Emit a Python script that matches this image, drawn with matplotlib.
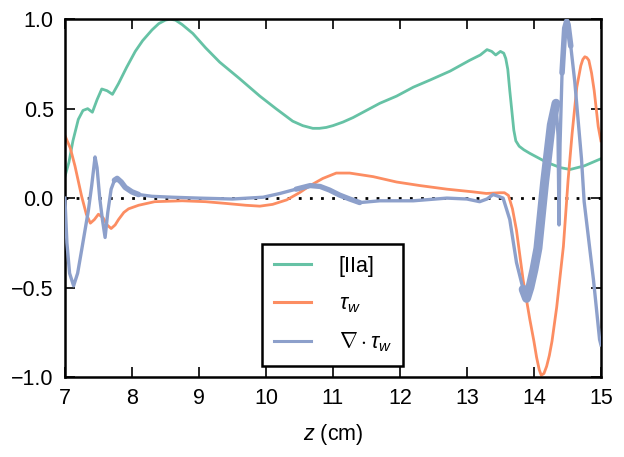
import numpy as np
import matplotlib
matplotlib.use("Agg")
import matplotlib.pyplot as plt

plt.rcParams['font.family'] = ['Liberation Sans', 'DejaVu Sans']
plt.rcParams['mathtext.fontset'] = 'custom'
plt.rcParams['mathtext.rm'] = 'Liberation Sans'
plt.rcParams['mathtext.it'] = 'Liberation Sans:italic'

# [IIa] profile
green_z = [7.0, 7.06, 7.12, 7.2, 7.27, 7.34, 7.41, 7.48, 7.55, 7.63, 7.71, 7.8, 7.92, 8.05,
           8.16, 8.3, 8.4, 8.5, 8.57, 8.65, 8.75, 8.91, 9.1, 9.31, 9.6, 9.91, 10.15, 10.4,
           10.55, 10.7, 10.8, 10.9, 11.0, 11.15, 11.3, 11.7, 11.95, 12.2, 12.45, 12.75, 13.04,
           13.2, 13.3, 13.37, 13.43, 13.5, 13.55, 13.58, 13.61, 13.64, 13.67, 13.7, 13.73,
           13.78, 13.85, 13.94, 14.19, 14.4, 14.54, 14.75, 15.0]
green_v = [0.12, 0.2, 0.32, 0.44, 0.49, 0.50, 0.48, 0.55, 0.61, 0.60, 0.58, 0.64, 0.73, 0.82,
           0.88, 0.94, 0.975, 0.995, 1.0, 0.995, 0.97, 0.92, 0.84, 0.76, 0.67, 0.57, 0.50, 0.43,
           0.405, 0.39, 0.39, 0.395, 0.405, 0.425, 0.45, 0.53, 0.57, 0.62, 0.66, 0.71, 0.77,
           0.80, 0.83, 0.82, 0.80, 0.82, 0.81, 0.78, 0.72, 0.6, 0.49, 0.38, 0.32, 0.29, 0.27,
           0.25, 0.20, 0.17, 0.16, 0.18, 0.22]

# wall shear stress tau_w
tau_z = [7.0, 7.08, 7.15, 7.25, 7.32, 7.38, 7.44, 7.5, 7.57, 7.63, 7.69, 7.75, 7.8, 7.88, 7.95,
         8.1, 8.34, 8.75, 9.1, 9.41, 9.7, 9.91, 10.1, 10.31, 10.5, 10.66, 10.85, 11.05, 11.25,
         11.6, 11.95, 12.3, 12.7, 13.09, 13.29, 13.49, 13.56, 13.62, 13.68, 13.74, 13.84, 13.94,
         14.0, 14.04, 14.08, 14.11, 14.15, 14.19, 14.23, 14.27, 14.34, 14.44, 14.51, 14.57,
         14.64, 14.7, 14.73, 14.76, 14.79, 14.82, 14.86, 14.9, 14.96, 15.0]
tau_v = [0.35, 0.28, 0.18, 0.01, -0.09, -0.14, -0.12, -0.09, -0.11, -0.15, -0.17, -0.15, -0.12,
         -0.08, -0.06, -0.04, -0.02, -0.015, -0.02, -0.03, -0.04, -0.045, -0.035, -0.01, 0.03,
         0.07, 0.11, 0.14, 0.14, 0.12, 0.09, 0.07, 0.05, 0.035, 0.026, 0.03, 0.03, 0.015, -0.06,
         -0.18, -0.46, -0.68, -0.8, -0.89, -0.96, -0.99, -0.98, -0.94, -0.88, -0.80, -0.61,
         -0.27, 0.10, 0.36, 0.62, 0.74, 0.775, 0.79, 0.785, 0.77, 0.7, 0.6, 0.4, 0.32]

# divergence of tau_w
div_z = [7.0, 7.03, 7.07, 7.13, 7.19, 7.25, 7.3, 7.35, 7.4, 7.45, 7.48, 7.52, 7.56, 7.6, 7.64,
         7.69, 7.74, 7.78, 7.84, 7.9, 8.0, 8.1, 8.3, 8.6, 9.0, 9.5, 9.96, 10.21, 10.45, 10.66,
         10.81, 10.95, 11.1, 11.25, 11.4, 11.7, 12.2, 12.7, 13.0, 13.19, 13.3, 13.39, 13.47,
         13.54, 13.64, 13.74, 13.84, 13.89, 13.94, 14.0, 14.06, 14.16, 14.26, 14.33, 14.36,
         14.375, 14.39, 14.42, 14.46, 14.49, 14.51, 14.55, 14.61, 14.71, 14.75, 14.89, 14.98,
         15.0]
div_v = [0.0, -0.25, -0.42, -0.49, -0.42, -0.29, -0.18, -0.07, 0.07, 0.23, 0.17, 0.0, -0.12,
         -0.22, -0.08, 0.05, 0.10, 0.11, 0.09, 0.06, 0.035, 0.02, 0.01, 0.005, 0.0, -0.005,
         0.005, 0.026, 0.05, 0.07, 0.065, 0.045, 0.017, -0.005, -0.025, -0.015, -0.015, 0.0,
         -0.005, -0.02, -0.005, 0.02, 0.01, 0.0, -0.12, -0.36, -0.51, -0.56, -0.5, -0.4, -0.28,
         0.09, 0.41, 0.53, 0.35, -0.15, 0.3, 0.7, 0.95, 0.99, 0.97, 0.85, 0.65, 0.22, -0.02,
         -0.46, -0.79, -0.82]

labels = ['[IIa]', r'$\tau_w$', r'$\nabla\cdot\tau_w$']
colors = ['#66c2a5', '#fc8d62', '#8da0cb']

fig = plt.figure(figsize=(6.24, 4.57), dpi=100)
ax = fig.add_axes([0.104, 0.175, 0.859, 0.783])

ax.plot([7, 15], [0, 0], color='black', lw=2, dashes=(1, 3), zorder=1)
ax.plot(green_z, green_v, color=colors[0], lw=2, label=labels[0], zorder=2)
ax.plot(tau_z, tau_v, color=colors[1], lw=2, label=labels[1], zorder=2)
ax.plot(div_z, div_v, color=colors[2], lw=2.4, label=labels[2], zorder=3)

# the noisy stretches of the divergence look like a thick band
dz = np.array(div_z)
dv = np.array(div_v)
for lo, hi, w in [(7.74, 8.1, 4.0), (10.3, 11.5, 3.8), (13.84, 14.33, 6.5), (14.42, 14.6, 4.0)]:
    m = (dz >= lo) & (dz <= hi)
    ax.plot(dz[m], dv[m], color=colors[2], lw=w, solid_capstyle='round', zorder=3)

ax.set_xlim(7, 15)
ax.set_ylim(-1, 1)
ax.set_xticks(range(7, 16))
ax.set_yticks([-1.0, -0.5, 0.0, 0.5, 1.0])
ax.set_yticklabels(['\u22121.0', '\u22120.5', '0.0', '0.5', '1.0'])
ax.tick_params(direction='in', top=True, right=True, length=7, width=1.2,
               labelsize=15.5, pad=8)
for s in ax.spines.values():
    s.set_linewidth(1.8)
ax.set_xlabel(r'$z$ (cm)', fontsize=15.5, labelpad=9)

leg = ax.legend(loc='lower center', fontsize=15.5, fancybox=False, framealpha=1,
                edgecolor='black', handlelength=1.7, borderpad=0.55, labelspacing=0.75,
                handletextpad=1.3, borderaxespad=0.5)
leg.get_frame().set_linewidth(1.8)
for h in leg.get_lines():
    h.set_linewidth(2.2)

fig.savefig('out.png', dpi=100)
